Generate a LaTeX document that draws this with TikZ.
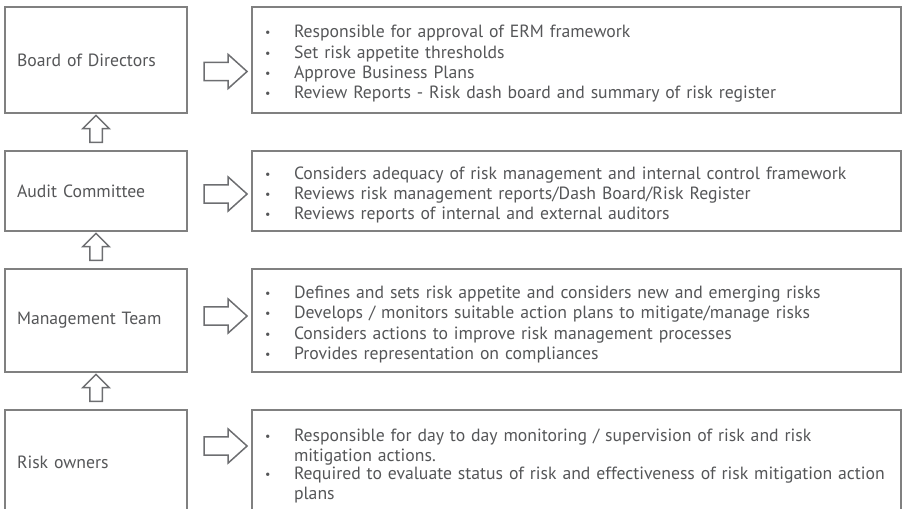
\documentclass[tikz,border=0pt]{standalone}
\usepackage{fontspec}
\setmainfont{PT Sans}
\usetikzlibrary{shapes.arrows,calc}

\definecolor{rulegray}{HTML}{808080}
\definecolor{ink}{HTML}{555658}
\definecolor{arrowgray}{HTML}{6D6E71}

% one bullet point of a duty list
\newcommand{\duty}[1]{\par\noindent
  \makebox[36pt][l]{\hspace{7pt}\raisebox{1pt}{\fontsize{12}{12}\selectfont\textbullet}}%
  \parbox[t]{601pt}{\raggedright #1}}

\tikzset{
  rolebox/.style={draw=rulegray, line width=1.3pt, minimum width=182, text width=158,
    inner xsep=12pt, align=left, text=ink, font=\fontsize{17.7}{20.4}\selectfont},
  dutybox/.style={draw=rulegray, line width=1.3pt, minimum width=649, text width=637,
    inner xsep=6pt, align=left, text=ink, font=\fontsize{17.7}{20.4}\selectfont},
  pointer/.style={single arrow, draw=arrowgray, line width=1.5pt, inner sep=0pt,
    inner ysep=7.5pt, minimum height=43, minimum width=34, single arrow tip angle=84},
  uppointer/.style={single arrow, draw=arrowgray, line width=1.5pt, inner sep=0pt,
    inner ysep=5.5pt, minimum height=27, minimum width=24, single arrow tip angle=90,
    rotate=90}
}

\begin{document}
\begin{tikzpicture}[x=1pt, y=-1pt]
    \clip (0,0) rectangle (903,509);

    % who
    \node (board) [rolebox, minimum height=106] at (96,60) {Board of Directors};
    \node (audit) [rolebox, minimum height=80] at (96,191) {Audit Committee};
    \node (mgmt)  [rolebox, minimum height=103] at (96,320.5) {Management Team};
    \node (owners) [rolebox, minimum height=104] at (96,462) {Risk owners};

    % what they do
    \node (boardduty) [dutybox, minimum height=106] at (576.5,60) {%
      \duty{Responsible for approval of ERM framework}
      \duty{Set risk appetite thresholds}
      \duty{Approve Business Plans}
      \duty{Review Reports - Risk dash board and summary of risk register}};
    \node (auditduty) [dutybox, minimum height=80] at (576.5,191) {%
      \duty{Considers adequacy of risk management and internal control framework}
      \duty{Reviews risk management reports/Dash Board/Risk Register}
      \duty{Reviews reports of internal and external auditors}};
    \node (mgmtduty) [dutybox, minimum height=103] at (576.5,320.5) {%
      \duty{Defines and sets risk appetite and considers new and emerging risks}
      \duty{Develops / monitors suitable action plans to mitigate/manage risks}
      \duty{Considers actions to improve risk management processes}
      \duty{Provides representation on compliances}};
    \node (ownersduty) [dutybox, minimum height=104] at (576.5,462) {%
      \duty{Responsible for day to day monitoring / supervision of risk and risk\\
        mitigation actions.}
      \duty{Required to evaluate status of risk and effectiveness of risk mitigation action\\
        plans}};

    % block arrows
    \node (toboard) [pointer] at (220.5,71.5) {};
    \node (toaudit) [pointer] at (220.5,194) {};
    \node (tomgmt)  [pointer] at (220.5,316) {};
    \node (toowners) [pointer] at (220.5,446) {};

    \node (up1) [uppointer] at ($(audit.north)!0.5!(board.south)$) {};
    \node (up2) [uppointer] at ($(mgmt.north)!0.5!(audit.south)$) {};
    \node (up3) [uppointer] at ($(owners.north)!0.5!(mgmt.south)$) {};
\end{tikzpicture}
\end{document}
